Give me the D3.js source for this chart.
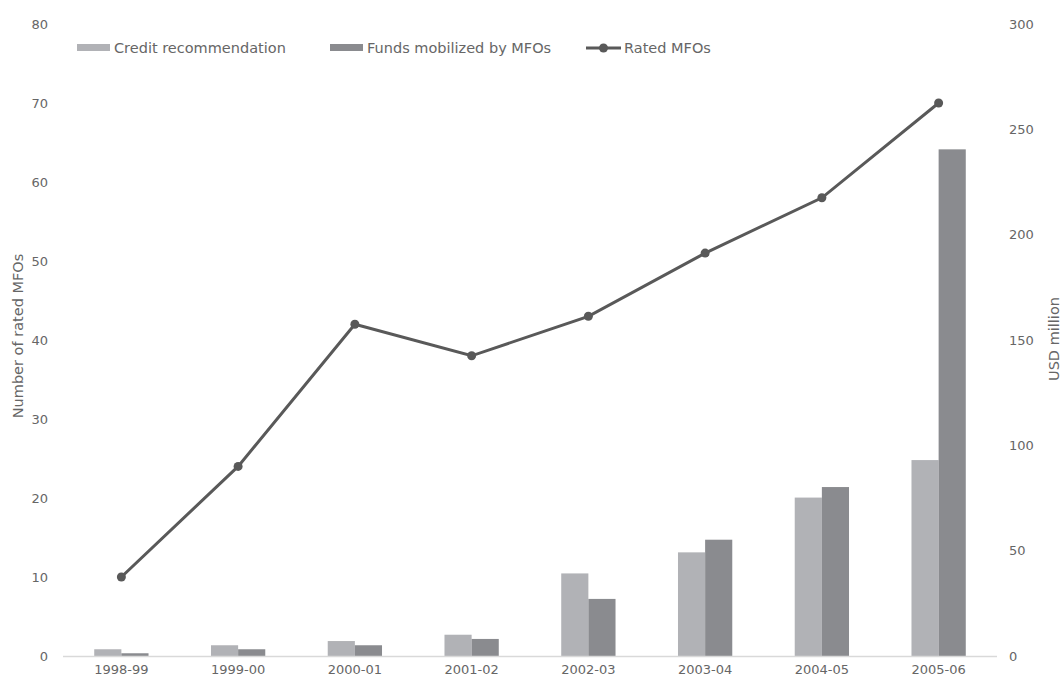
<!DOCTYPE html>
<html><head><meta charset="utf-8">
<script src="https://cdn.jsdelivr.net/npm/d3@7"></script>
<style>
body{margin:0;background:#fff;}
text{font-family:"DejaVu Sans",sans-serif;fill:#666;}
</style></head>
<body><svg id="c" width="1061" height="681"></svg>
<script>
const categories = ["1998-99","1999-00","2000-01","2001-02","2002-03","2003-04","2004-05","2005-06"];
const creditRecommendation = [3.2, 5.1, 7.1, 10.1, 39.2, 49.2, 75.2, 93];
const fundsMobilized = [1.3, 3.2, 5.1, 8.1, 27.1, 55.2, 80.2, 240.5];
const ratedMFOs = [10, 24, 42, 38, 43, 51, 58, 70];
const leftTicks = [0,10,20,30,40,50,60,70,80];
const rightTicks = [0,50,100,150,200,250,300];

const svg = d3.select("#c");
const x0 = 63, x1 = 997, yTop = 24, yBot = 656;
const xc = d3.scaleBand().domain(categories).range([x0, x1]);
const groupW = xc.bandwidth() * 0.465;
const sub = d3.scaleBand().domain(["c","f"]).range([0, groupW]);
const yL = d3.scaleLinear().domain([0,80]).range([yBot, yTop]);
const yR = d3.scaleLinear().domain([0,300]).range([yBot, yTop]);

const cCol = "#b1b2b6", fCol = "#8a8b8f", lCol = "#595959";

// bars
const g = svg.append("g");
categories.forEach((c,i)=>{
  const bx = xc(c) + xc.bandwidth()/2 - groupW/2;
  g.append("rect").attr("x", bx + sub("c")).attr("width", sub.bandwidth())
    .attr("y", yR(creditRecommendation[i])).attr("height", yBot - yR(creditRecommendation[i])).attr("fill", cCol);
  g.append("rect").attr("x", bx + sub("f")).attr("width", sub.bandwidth())
    .attr("y", yR(fundsMobilized[i])).attr("height", yBot - yR(fundsMobilized[i])).attr("fill", fCol);
});

// x axis line
svg.append("line").attr("x1", x0).attr("x2", x1).attr("y1", yBot+0.5).attr("y2", yBot+0.5)
  .attr("stroke", "#d9d9d9").attr("stroke-width", 1.5);

// line
const cx = i => xc(categories[i]) + xc.bandwidth()/2;
const line = d3.line().x((d,i)=>cx(i)).y(d=>yL(d));
svg.append("path").datum(ratedMFOs).attr("d", line).attr("fill","none")
  .attr("stroke", lCol).attr("stroke-width", 3);
svg.selectAll(".dot").data(ratedMFOs).enter().append("circle")
  .attr("cx",(d,i)=>cx(i)).attr("cy", d=>yL(d)).attr("r", 4.5).attr("fill", lCol);

// axes labels
const fs = 13;
svg.selectAll(".lt").data(leftTicks).enter().append("text")
  .attr("x", 48).attr("y", d=>yL(d)).attr("dy","0.35em").attr("text-anchor","end")
  .attr("font-size", fs).text(d=>d);
svg.selectAll(".rt").data(rightTicks).enter().append("text")
  .attr("x", 1009).attr("y", d=>yR(d)).attr("dy","0.35em").attr("text-anchor","start")
  .attr("font-size", fs).text(d=>d);
svg.selectAll(".xt").data(categories).enter().append("text")
  .attr("x", d=>xc(d)+xc.bandwidth()/2).attr("y", 674).attr("text-anchor","middle")
  .attr("font-size", fs).text(d=>d);

svg.append("text").attr("transform","translate(23,336) rotate(-90)").attr("text-anchor","middle")
  .attr("font-size", 14.5).text("Number of rated MFOs");
svg.append("text").attr("transform","translate(1059,339) rotate(-90)").attr("text-anchor","middle")
  .attr("font-size", 14.5).text("USD million");

// legend
const lfs = 14.5;
const lg = svg.append("g");
lg.append("rect").attr("x",77).attr("y",44).attr("width",33).attr("height",7).attr("fill",cCol);
lg.append("text").attr("x",114).attr("y",48).attr("dy","0.35em").attr("font-size",lfs).text("Credit recommendation");
lg.append("rect").attr("x",330).attr("y",44).attr("width",33).attr("height",7).attr("fill",fCol);
lg.append("text").attr("x",367).attr("y",48).attr("dy","0.35em").attr("font-size",lfs).text("Funds mobilized by MFOs");
lg.append("line").attr("x1",586).attr("x2",621).attr("y1",48).attr("y2",48).attr("stroke",lCol).attr("stroke-width",3);
lg.append("circle").attr("cx",603.5).attr("cy",48).attr("r",4.5).attr("fill",lCol);
lg.append("text").attr("x",624).attr("y",48).attr("dy","0.35em").attr("font-size",lfs).text("Rated MFOs");
</script></body></html>
